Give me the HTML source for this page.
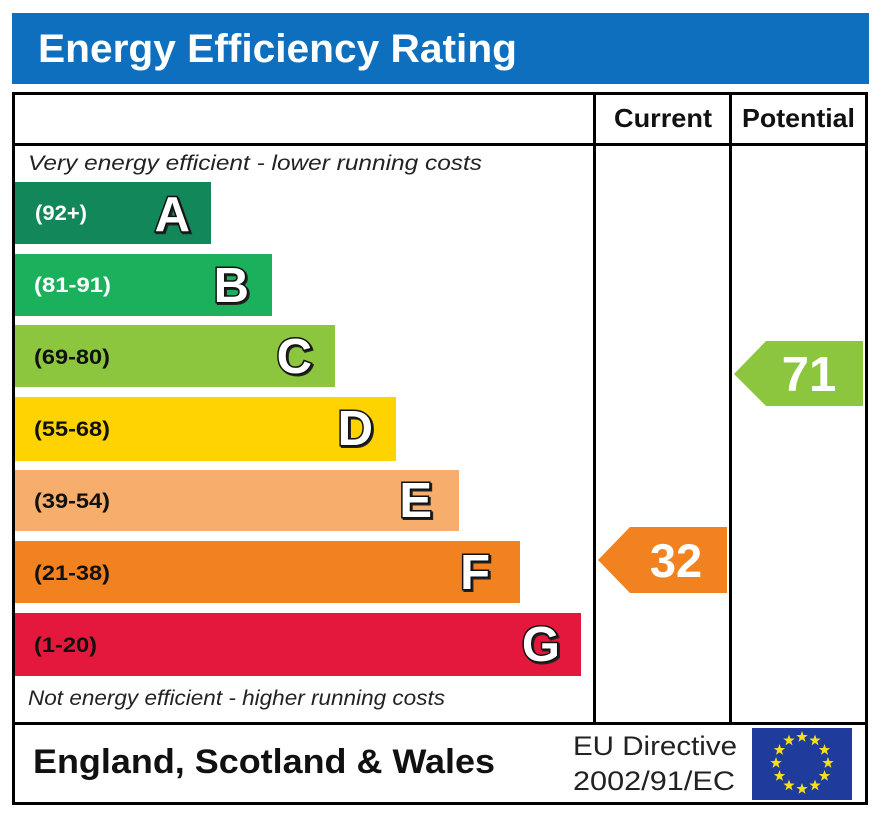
<!DOCTYPE html>
<html><head><meta charset="utf-8"><style>
html,body{margin:0;padding:0;background:#fff;}
svg{display:block;}
text{font-family:"Liberation Sans",Arial,sans-serif;}
</style></head><body>
<svg width="886" height="813" viewBox="0 0 886 813" xmlns="http://www.w3.org/2000/svg">
<rect x="0" y="0" width="886" height="813" fill="#fff"/>
<!-- header -->
<rect x="12" y="13" width="857" height="71" fill="#0d6fbe"/>
<text x="38" y="62" font-size="40" font-weight="bold" fill="#fff" textLength="479" lengthAdjust="spacingAndGlyphs">Energy Efficiency Rating</text>

<!-- bars -->
<rect x="15" y="182" width="196" height="62" fill="#12885a"/>
<rect x="15" y="254" width="257" height="62" fill="#1bb05b"/>
<rect x="15" y="325" width="320" height="62" fill="#8cc63f"/>
<rect x="15" y="397" width="381" height="64" fill="#fed300"/>
<rect x="15" y="470" width="444" height="61" fill="#f7ad6b"/>
<rect x="15" y="541" width="505" height="62" fill="#f2821f"/>
<rect x="15" y="613" width="566" height="63" fill="#e4173d"/>

<g font-weight="bold" font-size="21">
<text x="35" y="220" fill="#fff" textLength="52" lengthAdjust="spacingAndGlyphs">(92+)</text>
<text x="34" y="292" fill="#fff" textLength="77" lengthAdjust="spacingAndGlyphs">(81-91)</text>
<text x="34" y="364" fill="#111" textLength="76" lengthAdjust="spacingAndGlyphs">(69-80)</text>
<text x="34" y="436" fill="#111" textLength="76" lengthAdjust="spacingAndGlyphs">(55-68)</text>
<text x="34" y="508" fill="#111" textLength="76" lengthAdjust="spacingAndGlyphs">(39-54)</text>
<text x="34" y="580" fill="#111" textLength="76" lengthAdjust="spacingAndGlyphs">(21-38)</text>
<text x="34" y="652" fill="#111" textLength="63" lengthAdjust="spacingAndGlyphs">(1-20)</text>
</g>

<g font-weight="bold" font-size="49" fill="#222" stroke="#222" stroke-width="3" text-anchor="end" transform="translate(1.5,1.5)">
<text x="190" y="231">A</text>
<text x="249" y="302">B</text>
<text x="312" y="373">C</text>
<text x="373" y="445">D</text>
<text x="432" y="517">E</text>
<text x="490" y="589">F</text>
<text x="560" y="661">G</text>
</g>
<g font-weight="bold" font-size="49" fill="#fff" stroke="#111" stroke-width="3" paint-order="stroke" text-anchor="end">
<text x="190" y="231">A</text>
<text x="249" y="302">B</text>
<text x="312" y="373">C</text>
<text x="373" y="445">D</text>
<text x="432" y="517">E</text>
<text x="490" y="589">F</text>
<text x="560" y="661">G</text>
</g>

<text x="28" y="170" font-size="21" font-style="italic" fill="#222" textLength="454" lengthAdjust="spacingAndGlyphs">Very energy efficient - lower running costs</text>
<text x="28" y="705" font-size="21" font-style="italic" fill="#222" textLength="417" lengthAdjust="spacingAndGlyphs">Not energy efficient - higher running costs</text>

<!-- arrows -->
<polygon points="598,560 630,527 727,527 727,593 630,593" fill="#f2821f"/>
<text x="676" y="577" font-size="47" font-weight="bold" fill="#fff" text-anchor="middle">32</text>
<polygon points="734,374 766,341 863,341 863,406 766,406" fill="#8cc63f"/>
<text x="809" y="391" font-size="49" font-weight="bold" fill="#fff" text-anchor="middle">71</text>

<!-- grid lines -->
<g fill="#000">
<rect x="12" y="92" width="856" height="3"/>
<rect x="12" y="143" width="856" height="3"/>
<rect x="12" y="722" width="856" height="3"/>
<rect x="12" y="802" width="856" height="3"/>
<rect x="12" y="92" width="3" height="713"/>
<rect x="865" y="92" width="3" height="713"/>
<rect x="593" y="92" width="3" height="632"/>
<rect x="729" y="92" width="3" height="632"/>
</g>

<text x="614" y="127" font-size="26" font-weight="bold" fill="#111" textLength="98" lengthAdjust="spacingAndGlyphs">Current</text>
<text x="742" y="127" font-size="26" font-weight="bold" fill="#111" textLength="113" lengthAdjust="spacingAndGlyphs">Potential</text>

<!-- footer -->
<text x="33" y="773" font-size="34" font-weight="bold" fill="#111" textLength="462" lengthAdjust="spacingAndGlyphs">England, Scotland &amp; Wales</text>
<text x="573" y="755" font-size="27" fill="#222" textLength="164" lengthAdjust="spacingAndGlyphs">EU Directive</text>
<text x="573" y="790" font-size="27" fill="#222" textLength="162" lengthAdjust="spacingAndGlyphs">2002/91/EC</text>

<rect x="752" y="728" width="100" height="72" fill="#1f3b9b"/>
<g fill="#f7e01a">
<defs><polygon id="st" points="0,-6 1.42,-1.94 5.71,-1.86 2.28,0.74 3.53,4.86 0,2.4 -3.53,4.86 -2.28,0.74 -5.71,-1.86 -1.42,-1.94"/></defs>
<use href="#st" x="802" y="737"/>
<use href="#st" x="815" y="740.5"/>
<use href="#st" x="824.5" y="750"/>
<use href="#st" x="828" y="763"/>
<use href="#st" x="824.5" y="776"/>
<use href="#st" x="815" y="785.5"/>
<use href="#st" x="802" y="789"/>
<use href="#st" x="789" y="785.5"/>
<use href="#st" x="779.5" y="776"/>
<use href="#st" x="776" y="763"/>
<use href="#st" x="779.5" y="750"/>
<use href="#st" x="789" y="740.5"/>
</g>
</svg>
</body></html>
